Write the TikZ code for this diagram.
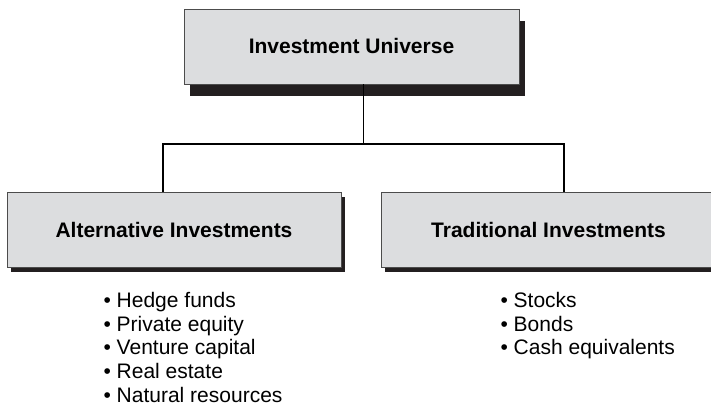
\documentclass[tikz,border=0pt]{standalone}
\usepackage{fontspec}
\setmainfont{Liberation Sans}
\usetikzlibrary{positioning,shadows}
\definecolor{boxgray}{HTML}{DCDDDF}
\definecolor{shadowgray}{HTML}{231F20}
\tikzset{
    category/.style={
           rectangle,
           draw=black!70, line width=0.8pt,
           fill=boxgray,
           minimum height=75pt,
           text centered,
           font=\fontsize{21}{24}\selectfont\bfseries,
           },
    itemlist/.style={
           align=left,
           inner sep=0pt,
           anchor=north west,
           font=\fontsize{21}{23.6}\selectfont,
           },
}

\begin{document}
\begin{tikzpicture}[x=1pt,y=1pt,line width=1.1pt]
	\useasboundingbox (0,0) rectangle (711,406);

	\node[category,minimum width=335pt,
	      general shadow={fill=shadowgray,shadow xshift=6pt,shadow yshift=-12pt}]
	      (top) at (351.5,359.5) {Investment Universe};
	\node[category,minimum width=334pt,
	      general shadow={fill=shadowgray,shadow xshift=4pt,shadow yshift=-5pt}]
	      (alt) at (174,176.5) {Alternative Investments};
	\node[category,minimum width=335pt,
	      general shadow={fill=shadowgray,shadow xshift=4pt,shadow yshift=-5pt}]
	      (trad) at (548.5,176.5) {Traditional Investments};

	% the tree lines
	\coordinate (fork) at (363.5,262);
	\coordinate (altjoin) at (163,262);
	\coordinate (tradjoin) at (564,262);
	\draw (fork |- top.south) -- (fork);
	\draw (altjoin |- alt.north) -- (altjoin) -- (tradjoin) -- (tradjoin |- trad.north);

	\node[itemlist] (altlist) at (103,114)
		{• Hedge funds\\• Private equity\\• Venture capital\\• Real estate\\• Natural resources};
	\node[itemlist] (tradlist) at (500,114)
		{• Stocks\\• Bonds\\• Cash equivalents};

\end{tikzpicture}
\end{document}
